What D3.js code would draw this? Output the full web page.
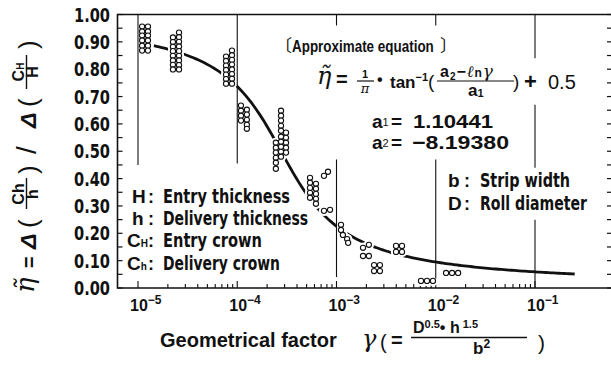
<!DOCTYPE html>
<html>
<head>
<meta charset="utf-8">
<script src="https://cdn.jsdelivr.net/npm/d3@7"></script>
<style>
  html, body { margin: 0; padding: 0; background: #fff; }
  svg { display: block; }
  text { font-family: "Liberation Sans", Arial, sans-serif; font-weight: bold; fill: #111; }
  .narrow { font-family: "Liberation Sans Narrow", "DejaVu Sans Condensed", "Liberation Sans", sans-serif; }
  .serif { font-family: "DejaVu Serif", "Liberation Serif", serif; font-style: italic; font-weight: normal; }
  .cjk { font-family: "Noto Sans CJK JP", sans-serif; }
</style>
</head>
<body>
<svg id="chart" width="611" height="371"></svg>
<script>
// ---- data ----
const decades = [1e-5, 1e-4, 1e-3, 1e-2, 1e-1];
const decadeExponents = ["\u22125", "\u22124", "\u22123", "\u22122", "\u22121"];
const yTickValues = [0, 0.1, 0.2, 0.3, 0.4, 0.5, 0.6, 0.7, 0.8, 0.9, 1.0];
const yTickLabels = ["0.00", "0.10", "0.20", "0.30", "0.40", "0.50", "0.60", "0.70", "0.80", "0.90", "1.00"];

// constants of the approximate equation
const a1 = 1.10441;
const a2 = -8.19380;
const a1Label = "1.10441";
const a2Label = "\u22128.19380";

// measured points [gamma, eta]
const measured = [
  // ~1e-5
  [1.10e-5, 0.956], [1.10e-5, 0.938], [1.10e-5, 0.923], [1.10e-5, 0.905], [1.10e-5, 0.886], [1.10e-5, 0.868],
  [1.26e-5, 0.956], [1.26e-5, 0.938], [1.26e-5, 0.923], [1.26e-5, 0.905], [1.26e-5, 0.886], [1.26e-5, 0.868],
  // ~2e-5
  [2.25e-5, 0.916], [2.25e-5, 0.899], [2.25e-5, 0.882], [2.25e-5, 0.866], [2.25e-5, 0.849], [2.25e-5, 0.832], [2.25e-5, 0.816], [2.25e-5, 0.799],
  [2.59e-5, 0.934], [2.59e-5, 0.917], [2.59e-5, 0.900], [2.59e-5, 0.883], [2.59e-5, 0.866], [2.59e-5, 0.849], [2.59e-5, 0.832], [2.59e-5, 0.815], [2.59e-5, 0.799],
  // ~8e-5
  [7.71e-5, 0.846], [7.71e-5, 0.830], [7.71e-5, 0.813], [7.71e-5, 0.797], [7.71e-5, 0.780], [7.71e-5, 0.764], [7.71e-5, 0.747],
  [8.85e-5, 0.868], [8.85e-5, 0.851], [8.85e-5, 0.834], [8.85e-5, 0.817], [8.85e-5, 0.799], [8.85e-5, 0.782], [8.85e-5, 0.765], [8.85e-5, 0.747],
  // ~1.1e-4
  [1.09e-4, 0.667], [1.09e-4, 0.648], [1.09e-4, 0.630], [1.09e-4, 0.612],
  [1.25e-4, 0.652], [1.25e-4, 0.634], [1.25e-4, 0.615], [1.25e-4, 0.597], [1.25e-4, 0.582],
  // ~2.5e-4 .. 3e-4
  [2.45e-4, 0.531], [2.45e-4, 0.513], [2.45e-4, 0.495], [2.45e-4, 0.476], [2.45e-4, 0.458], [2.45e-4, 0.436],
  [2.76e-4, 0.648], [2.76e-4, 0.630], [2.76e-4, 0.612], [2.76e-4, 0.593], [2.76e-4, 0.575], [2.76e-4, 0.553], [2.76e-4, 0.535], [2.76e-4, 0.516], [2.76e-4, 0.498], [2.76e-4, 0.480],
  [3.10e-4, 0.568], [3.10e-4, 0.549], [3.10e-4, 0.531], [3.10e-4, 0.513], [3.10e-4, 0.495],
  // ~5e-4 .. 8e-4
  [5.41e-4, 0.403], [5.41e-4, 0.385], [5.41e-4, 0.366], [5.41e-4, 0.348], [5.41e-4, 0.330],
  [6.21e-4, 0.381], [6.21e-4, 0.363], [6.21e-4, 0.344], [6.21e-4, 0.326], [6.21e-4, 0.308],
  [7.48e-4, 0.282], [8.61e-4, 0.286],
  [8.21e-4, 0.425], [7.48e-4, 0.410],
  // ~1.1e-3
  [1.11e-3, 0.231], [1.11e-3, 0.212], [1.16e-3, 0.194], [1.28e-3, 0.179], [1.31e-3, 0.165],
  // ~2e-3
  [1.85e-3, 0.147], [2.12e-3, 0.158], [1.85e-3, 0.117], [2.12e-3, 0.117],
  [2.39e-3, 0.084], [2.74e-3, 0.084], [2.39e-3, 0.062], [2.74e-3, 0.062],
  // ~4e-3
  [3.98e-3, 0.154], [4.57e-3, 0.154], [3.98e-3, 0.132], [4.57e-3, 0.132],
  // ~8e-3
  [7.10e-3, 0.026], [8.16e-3, 0.026], [9.37e-3, 0.026],
  // ~1.5e-2
  [1.27e-2, 0.055], [1.46e-2, 0.055], [1.68e-2, 0.055]
];

const legendLeft = [
  { sym: "H", sub: "", text: "Entry  thickness" },
  { sym: "h", sub: "", text: "Delivery  thickness" },
  { sym: "C", sub: "H", text: "Entry  crown" },
  { sym: "C", sub: "h", text: "Delivery  crown" }
];
const legendRight = [
  { sym: "b", text: "Strip  width" },
  { sym: "D", text: "Roll  diameter" }
];

// ---- layout ----
const svg = d3.select("#chart");
const frame = { left: 117.5, right: 612, top: 14.5, bottom: 288 };
const x = d3.scaleLog().domain([1e-5, 1e-1]).range([138, 535]);
const y = d3.scaleLinear().domain([0, 1]).range([288, 14.5]);
const ink = "#111";

// frame
svg.append("path")
  .attr("d", `M${frame.right},${frame.top}H${frame.left}V${frame.bottom}H${frame.right}`)
  .attr("fill", "none").attr("stroke", ink).attr("stroke-width", 1.6);

// left / right ticks every 0.05
const yMinor = d3.range(0, 21).map(i => i * 0.05);
svg.append("g").selectAll("line").data(yMinor).join("line")
  .attr("x1", frame.left).attr("x2", frame.left + 5)
  .attr("y1", d => y(d)).attr("y2", d => y(d))
  .attr("stroke", ink).attr("stroke-width", 1.2);
svg.append("g").selectAll("line").data(yMinor).join("line")
  .attr("x1", frame.right - 5).attr("x2", frame.right)
  .attr("y1", d => y(d)).attr("y2", d => y(d))
  .attr("stroke", ink).attr("stroke-width", 1.2);

// bottom ticks (log minor ticks between decades)
const xMinor = [];
decades.slice(0, -1).forEach(d => { for (let k = 2; k <= 9; k++) xMinor.push(d * k); });
svg.append("g").selectAll("line").data(xMinor).join("line")
  .attr("x1", d => x(d)).attr("x2", d => x(d))
  .attr("y1", frame.bottom).attr("y2", frame.bottom - 4)
  .attr("stroke", ink).attr("stroke-width", 1.1);
svg.append("g").selectAll("line").data(decades).join("line")
  .attr("x1", d => x(d)).attr("x2", d => x(d))
  .attr("y1", frame.bottom).attr("y2", frame.bottom - 7)
  .attr("stroke", ink).attr("stroke-width", 1.1);

// decade grid lines, broken where the annotations sit
const gridSpans = [
  [1e-5, 1.0, 0.45], [1e-4, 1.0, 0.455],
  [1e-3, 1.0, 0.96], [1e-3, 0.47, 0.04],
  [1e-2, 1.0, 0.96], [1e-2, 0.47, 0.035],
  [1e-1, 1.0, 0.84], [1e-1, 0.67, 0.44], [1e-1, 0.25, 0.0]
];

// fitted curve from the approximate equation
const fit = g => Math.atan((a2 - Math.log(g)) / a1) / Math.PI + 0.5;
const curveLog = d3.range(0, 161).map(i => -4.84 + i * (4.24 / 160));
const line = d3.line().x(l => x(Math.pow(10, l))).y(l => y(fit(Math.pow(10, l))));
svg.append("path").datum(curveLog).attr("d", line)
  .attr("fill", "none").attr("stroke", ink).attr("stroke-width", 2.8);

// white halo under each point interrupts the curve
const r = 2.6;
svg.append("g").selectAll("circle").data(measured).join("circle")
  .attr("cx", d => x(d[0])).attr("cy", d => y(d[1])).attr("r", r + 2.6)
  .attr("fill", "#fff");

svg.append("g").selectAll("line").data(gridSpans).join("line")
  .attr("x1", d => x(d[0])).attr("x2", d => x(d[0]))
  .attr("y1", d => y(d[1])).attr("y2", d => y(d[2]))
  .attr("stroke", ink).attr("stroke-width", 1.1);

svg.append("g").selectAll("circle").data(measured).join("circle")
  .attr("cx", d => x(d[0])).attr("cy", d => y(d[1])).attr("r", r)
  .attr("fill", "#fff").attr("stroke", ink).attr("stroke-width", 1.1);

// y tick labels
svg.append("g").selectAll("text").data(yTickValues).join("text")
  .attr("class", "narrow")
  .attr("x", 110).attr("y", d => y(d) + 7).attr("text-anchor", "end")
  .attr("textLength", 36).attr("lengthAdjust", "spacingAndGlyphs")
  .style("font-size", "19px").text((d, i) => yTickLabels[i]);

// x tick labels 10^n (one text element per label)
const xl = svg.append("g").selectAll("text").data(decades).join("text")
  .attr("x", d => x(d) - 8).attr("y", 311).style("font-size", "16px");
xl.append("tspan").text("10");
xl.append("tspan").attr("dy", -7).style("font-size", "12px").text((d, i) => decadeExponents[i]);

// x axis title
const xt = svg.append("g");
xt.append("text").attr("x", 160).attr("y", 347).style("font-size", "20px").text("Geometrical factor");
xt.append("text").attr("x", 362).attr("y", 347).attr("class", "serif").style("font-size", "24px").text("\u03b3");
xt.append("text").attr("x", 380).attr("y", 349).style("font-size", "20px").style("font-weight", "normal").text("(");
xt.append("text").attr("x", 391).attr("y", 347).style("font-size", "20px").text("=");
const num = xt.append("text").attr("x", 413).attr("y", 333).style("font-size", "16px");
num.append("tspan").text("D");
num.append("tspan").attr("dy", -5).style("font-size", "11px").text("0.5");
num.append("tspan").attr("dy", 5).text("\u2022 h");
num.append("tspan").attr("dy", -5).style("font-size", "11px").text(" 1.5");
xt.append("line").attr("x1", 411).attr("x2", 527).attr("y1", 337.5).attr("y2", 337.5)
  .attr("stroke", ink).attr("stroke-width", 1.3);
const den = xt.append("text").attr("x", 473).attr("y", 354).style("font-size", "17px");
den.append("tspan").text("b");
den.append("tspan").attr("dy", -6).style("font-size", "12px").text("2");
xt.append("text").attr("x", 538).attr("y", 350).style("font-size", "21px").style("font-weight", "normal").text(")");

// y axis title (rotated)
const yt = svg.append("g").attr("transform", "translate(36,293) rotate(-90)");
yt.append("text").attr("x", 0).attr("y", -2).attr("class", "serif").style("font-size", "26px").text("\u03b7\u0303");
yt.append("text").attr("x", 25).attr("y", 0).style("font-size", "20px").text("=");
yt.append("text").attr("x", 44).attr("y", 0).style("font-size", "23px").style("font-style", "italic").text("\u0394");
yt.append("text").attr("x", 65).attr("y", 1).style("font-size", "26px").style("font-weight", "normal").text("(");
yt.append("text").attr("x", 99).attr("y", -12).attr("text-anchor", "middle").style("font-size", "16px").text("Ch");
yt.append("line").attr("x1", 84).attr("x2", 115).attr("y1", -9.5).attr("y2", -9.5).attr("stroke", ink).attr("stroke-width", 1.4);
yt.append("text").attr("x", 99).attr("y", 2).attr("text-anchor", "middle").style("font-size", "16px").text("h");
yt.append("text").attr("x", 119).attr("y", 1).style("font-size", "26px").style("font-weight", "normal").text(")");
yt.append("text").attr("x", 139).attr("y", 0).style("font-size", "28px").style("font-weight", "normal").text("/");
yt.append("text").attr("x", 165).attr("y", 0).style("font-size", "23px").style("font-style", "italic").text("\u0394");
yt.append("text").attr("x", 186).attr("y", 1).style("font-size", "26px").style("font-weight", "normal").text("(");
const ch = yt.append("text").attr("x", 221).attr("y", -12).attr("text-anchor", "middle").style("font-size", "16px");
ch.append("tspan").text("C");
ch.append("tspan").style("font-size", "10px").text("H");
yt.append("line").attr("x1", 204).attr("x2", 238).attr("y1", -9.5).attr("y2", -9.5).attr("stroke", ink).attr("stroke-width", 1.4);
yt.append("text").attr("x", 221).attr("y", 2).attr("text-anchor", "middle").style("font-size", "16px").text("H");
yt.append("text").attr("x", 244).attr("y", 1).style("font-size", "26px").style("font-weight", "normal").text(")");

// left legend block
const baseL = [203, 225, 247, 270];
const widthL = [127, 145, 99, 117];
legendLeft.forEach((d, i) => {
  const t = svg.append("text").attr("x", d.sub ? 127 : 132).attr("y", baseL[i]).style("font-size", "19px");
  t.append("tspan").text(d.sym);
  if (d.sub) t.append("tspan").style("font-size", "10px").text(d.sub);
  svg.append("text").attr("x", 148).attr("y", baseL[i]).style("font-size", "18px").text(":");
  svg.append("text").attr("class", "narrow").attr("x", 163).attr("y", baseL[i])
    .style("font-size", "19px").attr("textLength", widthL[i]).attr("lengthAdjust", "spacingAndGlyphs").text(d.text);
});

// right legend block
const baseR = [187, 210];
const widthR = [90, 107];
legendRight.forEach((d, i) => {
  svg.append("text").attr("x", 448).attr("y", baseR[i]).style("font-size", "19px").text(d.sym);
  svg.append("text").attr("x", 464).attr("y", baseR[i]).style("font-size", "18px").text(":");
  svg.append("text").attr("class", "narrow").attr("x", 480).attr("y", baseR[i])
    .style("font-size", "19px").attr("textLength", widthR[i]).attr("lengthAdjust", "spacingAndGlyphs").text(d.text);
});

// approximate equation block
const eq = svg.append("g");
eq.append("text").attr("class", "cjk").attr("x", 275).attr("y", 52).style("font-size", "17px").style("font-weight", "normal").text("\u3014");
eq.append("g").attr("transform", "translate(292,52) scale(0.84,1)")
  .append("text").attr("x", 0).attr("y", 0).style("font-size", "16px").text("Approximate  equation");
eq.append("text").attr("class", "cjk").attr("x", 440).attr("y", 52).style("font-size", "17px").style("font-weight", "normal").text("\u3015");
eq.append("text").attr("x", 317).attr("y", 84).attr("class", "serif").style("font-size", "24px").text("\u03b7\u0303");
eq.append("text").attr("x", 336).attr("y", 86).style("font-size", "20px").text("=");
eq.append("text").attr("x", 365).attr("y", 78).attr("text-anchor", "middle").style("font-size", "11px").text("1");
eq.append("line").attr("x1", 357).attr("x2", 374).attr("y1", 81).attr("y2", 81).attr("stroke", ink).attr("stroke-width", 1.2);
eq.append("text").attr("x", 365).attr("y", 93).attr("text-anchor", "middle").attr("class", "serif").style("font-size", "13px").text("\u03c0");
eq.append("text").attr("x", 377).attr("y", 85).style("font-size", "16px").text("\u2022");
const tan = eq.append("text").attr("x", 390).attr("y", 88).style("font-size", "17px");
tan.append("tspan").text("tan");
tan.append("tspan").attr("dy", -7).style("font-size", "11px").text("\u22121");
tan.append("tspan").attr("dy", 7).style("font-weight", "normal").style("font-size", "19px").text("(");
const nm = eq.append("text").attr("x", 440).attr("y", 77).style("font-size", "16px").style("letter-spacing", "1px");
nm.append("tspan").text("a");
nm.append("tspan").attr("dy", 3).style("font-size", "10px").text("2");
nm.append("tspan").attr("dy", -3).text("\u2212");
nm.append("tspan").attr("class", "serif").text("\u2113");
nm.append("tspan").style("font-size", "12px").text("n");
nm.append("tspan").attr("class", "serif").style("font-size", "17px").text("\u03b3");
eq.append("line").attr("x1", 437).attr("x2", 514).attr("y1", 81).attr("y2", 81).attr("stroke", ink).attr("stroke-width", 1.2);
const dn = eq.append("text").attr("x", 468).attr("y", 96).style("font-size", "17px");
dn.append("tspan").text("a");
dn.append("tspan").attr("dy", 1).style("font-size", "11px").text("1");
eq.append("text").attr("x", 513).attr("y", 88).style("font-weight", "normal").style("font-size", "19px").text(")");
eq.append("text").attr("x", 524).attr("y", 89).style("font-size", "22px").text("+");
eq.append("text").attr("x", 548).attr("y", 89).style("font-weight", "normal").style("font-size", "20px").text("0.5");

// constant lines: a1 = ..., a2 = ...
const constLines = [["1", a1Label, 127.5, 80, 413], ["2", a2Label, 149, 97, 412]];
constLines.forEach(c => {
  const t = eq.append("text").attr("x", 372).attr("y", c[2]).style("font-size", "19px");
  t.append("tspan").text("a");
  t.append("tspan").attr("dy", -2).style("font-size", "11px").style("font-weight", "normal").text(c[0]);
  eq.append("text").attr("x", 391).attr("y", c[2]).style("font-size", "19px").text("=");
  eq.append("text").attr("x", c[4]).attr("y", c[2]).style("font-size", "19px")
    .attr("textLength", c[3]).attr("lengthAdjust", "spacingAndGlyphs").text(c[1]);
});
</script>
</body>
</html>
